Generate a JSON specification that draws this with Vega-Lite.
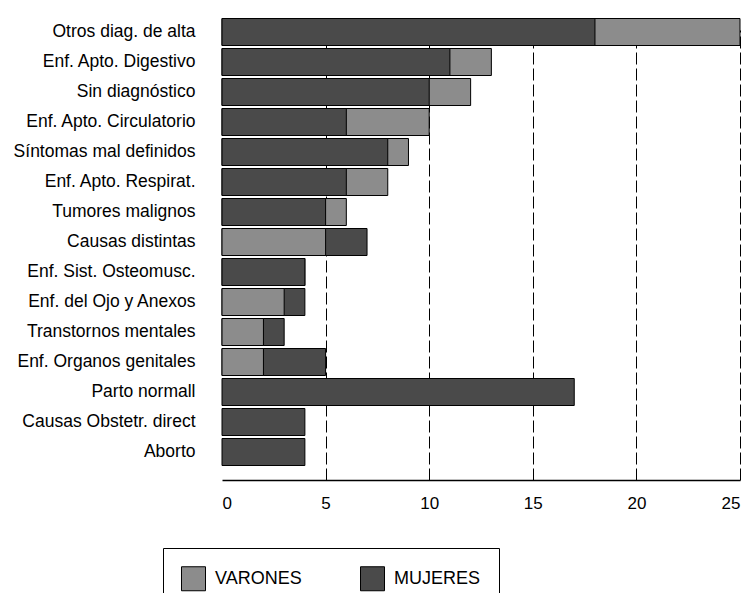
{
  "$schema": "https://vega.github.io/schema/vega-lite/v6.json",
  "width": 518,
  "height": 463,
  "padding": {"left": 13, "top": 17, "right": 6, "bottom": 0},
  "background": "white",
  "config": {
    "view": {"stroke": null},
    "font": "Liberation Sans"
  },
  "data": {
    "values": [
      {"causa": "Otros diag. de alta", "sexo": "VARONES", "valor": 25},
      {"causa": "Otros diag. de alta", "sexo": "MUJERES", "valor": 18},
      {"causa": "Enf. Apto. Digestivo", "sexo": "VARONES", "valor": 13},
      {"causa": "Enf. Apto. Digestivo", "sexo": "MUJERES", "valor": 11},
      {"causa": "Sin diagnóstico", "sexo": "VARONES", "valor": 12},
      {"causa": "Sin diagnóstico", "sexo": "MUJERES", "valor": 10},
      {"causa": "Enf. Apto. Circulatorio", "sexo": "VARONES", "valor": 10},
      {"causa": "Enf. Apto. Circulatorio", "sexo": "MUJERES", "valor": 6},
      {"causa": "Síntomas mal definidos", "sexo": "VARONES", "valor": 9},
      {"causa": "Síntomas mal definidos", "sexo": "MUJERES", "valor": 8},
      {"causa": "Enf. Apto. Respirat.", "sexo": "VARONES", "valor": 8},
      {"causa": "Enf. Apto. Respirat.", "sexo": "MUJERES", "valor": 6},
      {"causa": "Tumores malignos", "sexo": "VARONES", "valor": 6},
      {"causa": "Tumores malignos", "sexo": "MUJERES", "valor": 5},
      {"causa": "Causas distintas", "sexo": "VARONES", "valor": 5},
      {"causa": "Causas distintas", "sexo": "MUJERES", "valor": 7},
      {"causa": "Enf. Sist. Osteomusc.", "sexo": "VARONES", "valor": 4},
      {"causa": "Enf. Sist. Osteomusc.", "sexo": "MUJERES", "valor": 4},
      {"causa": "Enf. del Ojo y Anexos", "sexo": "VARONES", "valor": 3},
      {"causa": "Enf. del Ojo y Anexos", "sexo": "MUJERES", "valor": 4},
      {"causa": "Transtornos mentales", "sexo": "VARONES", "valor": 2},
      {"causa": "Transtornos mentales", "sexo": "MUJERES", "valor": 3},
      {"causa": "Enf. Organos genitales", "sexo": "VARONES", "valor": 2},
      {"causa": "Enf. Organos genitales", "sexo": "MUJERES", "valor": 5},
      {"causa": "Parto normall", "sexo": "MUJERES", "valor": 17},
      {"causa": "Causas Obstetr. direct", "sexo": "MUJERES", "valor": 4},
      {"causa": "Aborto", "sexo": "MUJERES", "valor": 4}
    ]
  },
  "mark": {"type": "bar", "stroke": "black", "strokeWidth": 1},
  "encoding": {
    "y": {
      "field": "causa",
      "type": "nominal",
      "sort": ["Otros diag. de alta", "Enf. Apto. Digestivo", "Sin diagnóstico", "Enf. Apto. Circulatorio", "Síntomas mal definidos", "Enf. Apto. Respirat.", "Tumores malignos", "Causas distintas", "Enf. Sist. Osteomusc.", "Enf. del Ojo y Anexos", "Transtornos mentales", "Enf. Organos genitales", "Parto normall", "Causas Obstetr. direct", "Aborto"],
      "scale": {"paddingInner": 0.1, "paddingOuter": 0.05, "range": [0, 450]},
      "axis": {
        "title": null,
        "domain": false,
        "ticks": false,
        "labelFontSize": 17.5,
        "labelColor": "black",
        "labelPadding": 27,
        "labelLimit": 300
      }
    },
    "x": {
      "field": "valor",
      "type": "quantitative",
      "stack": null,
      "scale": {"domain": [0, 25], "nice": false},
      "axis": {
        "title": null,
        "values": [0, 5, 10, 15, 20, 25],
        "ticks": false,
        "domainColor": "black",
        "domainWidth": 1.5,
        "labelFontSize": 17,
        "labelColor": "black",
        "labelPadding": 15,
        "grid": true,
        "gridColor": "black",
        "gridWidth": 1,
        "gridDash": [12, 4],
        "gridOpacity": {"condition": {"test": "datum.value === 0", "value": 0}, "value": 1}
      }
    },
    "color": {
      "field": "sexo",
      "type": "nominal",
      "scale": {"domain": ["VARONES", "MUJERES"], "range": ["#8c8c8c", "#4a4a4a"]},
      "legend": {
        "title": null,
        "orient": "none",
        "legendX": -59,
        "legendY": 531,
        "direction": "horizontal",
        "columns": 2,
        "columnPadding": 56,
        "padding": 18,
        "strokeColor": "black",
        "symbolType": "square",
        "symbolSize": 576,
        "symbolStrokeColor": "black",
        "symbolStrokeWidth": 1,
        "symbolOpacity": 1,
        "labelFontSize": 18,
        "labelColor": "black",
        "labelOffset": 9
      }
    },
    "order": {"field": "valor", "sort": "descending"}
  }
}
